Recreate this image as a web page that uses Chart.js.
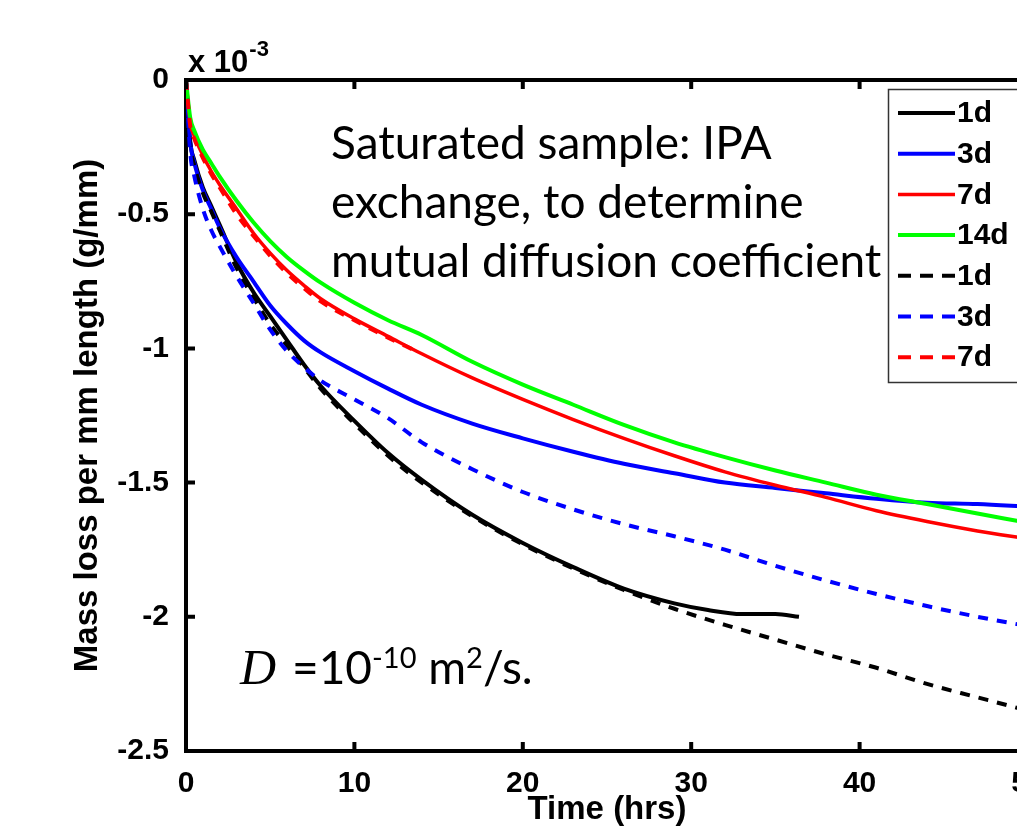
<!DOCTYPE html>
<html>
<head>
<meta charset="utf-8">
<script src="https://cdn.jsdelivr.net/npm/chart.js@4.4.1/dist/chart.umd.min.js"></script>
<style>
  html, body { margin: 0; padding: 0; background: #fff; overflow: hidden; }
  #wrap { width: 1017px; height: 831px; overflow: hidden; }
  canvas { display: block; }
</style>
</head>
<body>
<div id="wrap"><canvas id="myChart" width="1060" height="831"></canvas></div>
<script>
const ctx = document.getElementById('myChart');

// legend labels / colours, in the order of the original legend
const seriesLabels = ['1d', '3d', '7d', '14d', '1d', '3d', '7d'];
const seriesColors = ['#000000', '#0000ff', '#ff0000', '#00ff00', '#000000', '#0000ff', '#ff0000'];
const seriesDashed = [false, false, false, false, true, true, true];

// time (hrs)
const timeFull = [0, 0.25, 0.5, 1, 1.5, 2, 3, 4, 5, 6, 7, 8, 10, 12, 14, 17, 20, 23, 26, 29, 32, 35, 38, 41, 44, 47, 50];
const time1dSolid = [0, 0.25, 0.5, 1, 1.5, 2, 3, 4, 5, 6, 7, 8, 10, 12, 14, 17, 20, 23, 26, 29, 31, 33, 35, 36.4];
const time7dDashed = [0, 0.25, 0.5, 1, 1.5, 2, 3, 4, 5, 6, 7, 8, 10, 12, 13.5];

// mass loss per mm length (x 10^-3 g/mm)
const mass1dSolid = [0, -0.23, -0.30, -0.40, -0.47, -0.54, -0.68, -0.79, -0.88, -0.97, -1.06, -1.14, -1.27, -1.39, -1.49, -1.62, -1.725, -1.815, -1.895, -1.95, -1.975, -1.99, -1.99, -2.0];
const mass3dSolid = [0, -0.23, -0.31, -0.41, -0.48, -0.55, -0.66, -0.75, -0.84, -0.91, -0.97, -1.015, -1.085, -1.15, -1.21, -1.28, -1.335, -1.385, -1.43, -1.465, -1.50, -1.52, -1.54, -1.56, -1.575, -1.58, -1.59];
const mass7dSolid = [0, -0.16, -0.21, -0.28, -0.34, -0.39, -0.48, -0.57, -0.645, -0.71, -0.765, -0.815, -0.89, -0.955, -1.02, -1.11, -1.19, -1.265, -1.335, -1.40, -1.46, -1.51, -1.555, -1.605, -1.645, -1.68, -1.71];
const mass14dSolid = [0, -0.14, -0.19, -0.26, -0.31, -0.36, -0.45, -0.53, -0.60, -0.66, -0.71, -0.755, -0.83, -0.895, -0.95, -1.05, -1.135, -1.21, -1.285, -1.35, -1.405, -1.455, -1.50, -1.545, -1.58, -1.615, -1.65];
const mass1dDashed = [0, -0.24, -0.32, -0.42, -0.49, -0.56, -0.70, -0.81, -0.91, -0.99, -1.07, -1.15, -1.28, -1.40, -1.50, -1.625, -1.73, -1.82, -1.90, -1.97, -2.03, -2.085, -2.14, -2.19, -2.25, -2.30, -2.35];
const mass3dDashed = [0, -0.27, -0.36, -0.48, -0.56, -0.62, -0.73, -0.83, -0.93, -1.01, -1.07, -1.12, -1.19, -1.26, -1.35, -1.45, -1.535, -1.60, -1.655, -1.70, -1.75, -1.81, -1.865, -1.915, -1.96, -2.00, -2.035];
const mass7dDashed = [0, -0.17, -0.22, -0.29, -0.35, -0.40, -0.50, -0.58, -0.655, -0.72, -0.775, -0.825, -0.895, -0.96, -1.005];

const xTickValues = [0, 10, 20, 30, 40, 50];
const yTickValues = [0, -0.5, -1, -1.5, -2, -2.5];

const annotationLines = ['Saturated sample: IPA', 'exchange, to determine', 'mutual diffusion coefficient'];

function toPoints(times, values) {
  return times.map((t, i) => ({ x: t, y: values[i] }));
}

const seriesData = [
  toPoints(time1dSolid, mass1dSolid),
  toPoints(timeFull, mass3dSolid),
  toPoints(timeFull, mass7dSolid),
  toPoints(timeFull, mass14dSolid),
  toPoints(timeFull, mass1dDashed),
  toPoints(timeFull, mass3dDashed),
  toPoints(time7dDashed, mass7dDashed),
];

const AXIS_FONT = '"Liberation Sans", Arial, sans-serif';

// inward tick marks + closing box (MATLAB look)
const axesBox = {
  id: 'axesBox',
  afterDatasetsDraw(chart) {
    const { ctx: c, chartArea: a, scales } = chart;
    c.save();
    c.strokeStyle = '#000';
    c.lineWidth = 4;
    c.beginPath();
    c.moveTo(a.left - 2, a.top); c.lineTo(a.right + 2, a.top);
    c.moveTo(a.right, a.top); c.lineTo(a.right, a.bottom);
    c.stroke();
    scales.x.ticks.forEach(t => {
      const px = scales.x.getPixelForValue(t.value);
      c.beginPath();
      c.moveTo(px, a.bottom); c.lineTo(px, a.bottom - 9);
      c.moveTo(px, a.top); c.lineTo(px, a.top + 9);
      c.stroke();
    });
    scales.y.ticks.forEach(t => {
      const py = scales.y.getPixelForValue(t.value);
      c.beginPath();
      c.moveTo(a.left, py); c.lineTo(a.left + 9, py);
      c.moveTo(a.right, py); c.lineTo(a.right - 9, py);
      c.stroke();
    });
    c.restore();
  }
};

const textBits = {
  id: 'textBits',
  afterDraw(chart) {
    const c = chart.ctx;
    c.save();
    c.fillStyle = '#000';
    c.textBaseline = 'alphabetic';
    c.textAlign = 'left';

    // exponent label
    c.font = 'bold 31px ' + AXIS_FONT;
    c.fillText('x 10', 188, 72);
    const w = c.measureText('x 10').width;
    c.font = 'bold 22px ' + AXIS_FONT;
    c.fillText('-3', 188 + w + 1, 56);

    // annotation, sized so the longest line is ~555px wide
    c.font = '40px Lato';
    const scale = 555 / c.measureText(annotationLines[2]).width;
    const size = Math.round(40 * scale);
    c.font = size + 'px Lato';
    annotationLines.forEach((line, i) => c.fillText(line, 331, 159 + i * 59));

    // D = 10^-10 m^2/s.
    const base = 684;
    c.font = 'italic 50px "Liberation Serif"';
    c.fillText('D', 240, base);
    let x = 292;
    const parts = [
      ['=10', '46px Lato', 0],
      ['-10', '29px Lato', -16],
      [' m', '46px Lato', 0],
      ['2', '29px Lato', -16],
      ['/s.', '46px Lato', 0],
    ];
    parts.forEach(([txt, f, dy]) => {
      c.font = f;
      c.fillText(txt, x, base + dy);
      x += c.measureText(txt).width;
    });

    // legend box
    c.fillStyle = '#fff';
    c.fillRect(888, 89, 200, 293);
    c.strokeStyle = '#333';
    c.lineWidth = 1.5;
    c.strokeRect(888.5, 89.5, 200, 293);
    chart.data.datasets.forEach((ds, i) => {
      const y = 113 + i * 40.7;
      c.beginPath();
      c.setLineDash(ds.borderDash.length ? [13, 9] : []);
      c.strokeStyle = ds.borderColor;
      c.lineWidth = ds.borderWidth;
      c.moveTo(898, y); c.lineTo(955, y);
      c.stroke();
      c.setLineDash([]);
      c.fillStyle = '#000';
      c.font = 'bold 30px ' + AXIS_FONT;
      c.textBaseline = 'middle';
      c.fillText(ds.label, 957, y + 1);
    });
    c.restore();
  }
};

const config = {
  type: 'line',
  data: {
    datasets: seriesData.map((pts, i) => ({
      label: seriesLabels[i],
      data: pts,
      borderColor: seriesColors[i],
      borderWidth: seriesColors[i] === '#ff0000' && !seriesDashed[i] ? 3.5 : 4,
      borderDash: seriesDashed[i] ? [10, 9] : [],
      pointRadius: 0,
      fill: false,
      cubicInterpolationMode: 'monotone',
      order: 6 - i,
    })),
  },
  options: {
    responsive: false,
    animation: false,
    events: [],
    layout: { padding: { left: 0, top: 80, right: 32, bottom: 0 } },
    plugins: { legend: { display: false }, tooltip: { enabled: false } },
    scales: {
      x: {
        type: 'linear',
        min: 0,
        max: 50,
        afterBuildTicks: s => { s.ticks = xTickValues.map(v => ({ value: v })); },
        afterFit: s => { s.height = 80; },
        grid: { display: false },
        border: { display: true, color: '#000', width: 4 },
        ticks: {
          color: '#000',
          padding: 7,
          maxRotation: 0,
          font: { family: AXIS_FONT, size: 30, weight: 'bold' },
          callback: v => String(v),
        },
        title: {
          display: true,
          text: 'Time (hrs)',
          color: '#000',
          padding: { top: 0, bottom: 1 },
          font: { family: AXIS_FONT, size: 33, weight: 'bold' },
        },
      },
      y: {
        min: -2.5,
        max: 0,
        afterBuildTicks: s => { s.ticks = yTickValues.map(v => ({ value: v })); },
        afterFit: s => { s.width = 186; },
        grid: { display: false },
        border: { display: true, color: '#000', width: 4 },
        ticks: {
          color: '#000',
          padding: 9,
          font: { family: AXIS_FONT, size: 30, weight: 'bold' },
          callback: v => String(v),
        },
        title: {
          display: true,
          text: 'Mass loss per mm length (g/mm)',
          color: '#000',
          padding: { top: 68, bottom: 0 },
          font: { family: AXIS_FONT, size: 33, weight: 'bold' },
        },
      },
    },
  },
  plugins: [axesBox, textBits],
};

new Chart(ctx, config);
</script>
</body>
</html>
